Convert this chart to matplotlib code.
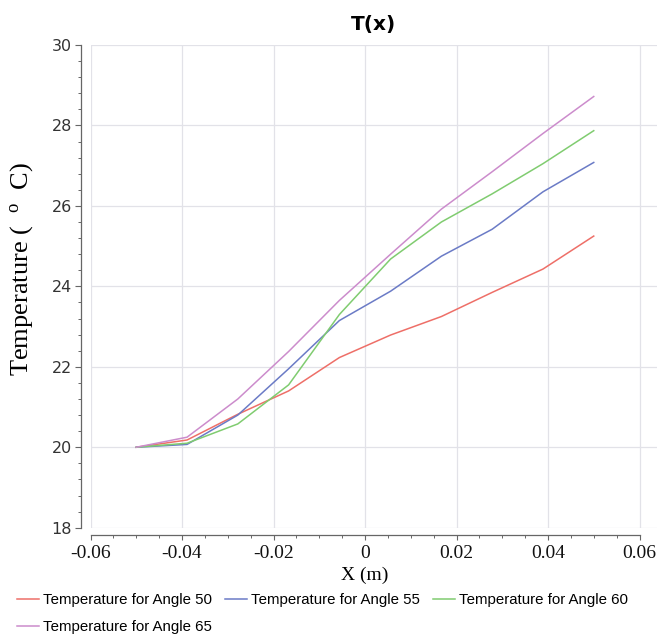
import matplotlib
matplotlib.use("Agg")
import matplotlib.pyplot as plt
from matplotlib.ticker import MultipleLocator, FixedFormatter

# ---- data ----
x_pos = [-0.05, -0.0389, -0.0278, -0.0167, -0.0056, 0.0056, 0.0167, 0.0278, 0.0389, 0.05]
t_angle50 = [20.0, 20.18, 20.82, 21.40, 22.23, 22.79, 23.25, 23.85, 24.43, 25.25]
t_angle55 = [20.0, 20.07, 20.80, 21.95, 23.15, 23.88, 24.75, 25.42, 26.35, 27.08]
t_angle60 = [20.0, 20.10, 20.58, 21.55, 23.30, 24.68, 25.60, 26.30, 27.05, 27.87]
t_angle65 = [20.0, 20.25, 21.20, 22.38, 23.65, 24.80, 25.92, 26.85, 27.80, 28.72]
series_labels = ["Temperature for Angle 50", "Temperature for Angle 55",
                 "Temperature for Angle 60", "Temperature for Angle 65"]
series_colors = ["#ee6f68", "#6b7bc6", "#80cc70", "#cc8ccc"]
x_ticks = [-0.06, -0.04, -0.02, 0, 0.02, 0.04, 0.06]
x_tick_labels = ["-0.06", "-0.04", "-0.02", "0", "0.02", "0.04", "0.06"]
y_ticks = [18, 20, 22, 24, 26, 28, 30]
y_tick_labels = ["18", "20", "22", "24", "26", "28", "30"]

plt.rcParams['mathtext.fontset'] = 'custom'
plt.rcParams['mathtext.rm'] = 'Liberation Serif'
plt.rcParams['mathtext.it'] = 'Liberation Serif:italic'

W, H = 661, 640
fig = plt.figure(figsize=(W / 100, H / 100), dpi=100)
left_px, right_px, top_px, bot_px = 90.5, 657, 45, 527.7
ax = fig.add_axes([left_px / W, 1 - bot_px / H, (right_px - left_px) / W, (bot_px - top_px) / H])

series = [t_angle50, t_angle55, t_angle60, t_angle65]
handles = []
for ys, lab, col in zip(series, series_labels, series_colors):
    h, = ax.plot(x_pos, ys, color=col, lw=1.1, label=lab)
    handles.append(h)

x_right = -0.06 + (right_px - left_px) / 4575.0
ax.set_xlim(-0.06, x_right)
ax.set_ylim(18, 30)

ax.set_xticks(x_ticks)
ax.xaxis.set_major_formatter(FixedFormatter(x_tick_labels))
ax.set_yticks(y_ticks)
ax.yaxis.set_major_formatter(FixedFormatter(y_tick_labels))
ax.xaxis.set_minor_locator(MultipleLocator(0.005))
ax.yaxis.set_minor_locator(MultipleLocator(0.4))

ax.grid(True, which='major', color='#e2e2e8', lw=0.9)
ax.set_axisbelow(True)

for s in ['top', 'right']:
    ax.spines[s].set_visible(False)
ax.spines['bottom'].set_position(('outward', 5.6))
ax.spines['bottom'].set_bounds(-0.06, 0.06)
ax.spines['left'].set_position(('outward', 6.5))
ax.spines['left'].set_bounds(18, 30)
for s in ['bottom', 'left']:
    ax.spines[s].set_color('#666666')
    ax.spines[s].set_linewidth(0.9)

ax.tick_params(axis='x', which='major', length=3.6, width=0.8, color='#666666', pad=3,
               labelsize=14, labelcolor='#111111', labelfontfamily='Liberation Serif')
ax.tick_params(axis='x', which='minor', length=2.2, width=0.7, color='#666666')
ax.tick_params(axis='y', which='major', length=4.3, width=0.8, color='#666666', pad=2.5,
               labelsize=11.5, labelcolor='#333333', labelfontfamily='DejaVu Sans')
ax.tick_params(axis='y', which='minor', length=2.5, width=0.7, color='#666666')

ax.set_title("T(x)", fontfamily='DejaVu Sans', fontweight='bold', fontsize=14.5, pad=11)

ax.set_xlabel("X (m)", fontfamily='Liberation Serif', fontsize=14)
ax.xaxis.set_label_coords((0 - (-0.06)) / (x_right + 0.06), -0.081)
ax.set_ylabel("Temperature (  $^{\\rm o}$  C)", fontfamily='Liberation Serif', fontsize=19)
ax.yaxis.set_label_coords(-0.098, 0.535)

order = [0, 3, 1, 2]
fig.legend([handles[i] for i in order], [series_labels[i] for i in order],
           loc='upper left', bbox_to_anchor=(17 / W, 1 - 593 / H), bbox_transform=fig.transFigure,
           ncol=3, frameon=False, borderaxespad=0, borderpad=0,
           prop={'family': 'Liberation Sans', 'size': 10.8},
           handlelength=1.45, handletextpad=0.3, columnspacing=0.85, labelspacing=0.85)

fig.savefig("out.png", dpi=100)
